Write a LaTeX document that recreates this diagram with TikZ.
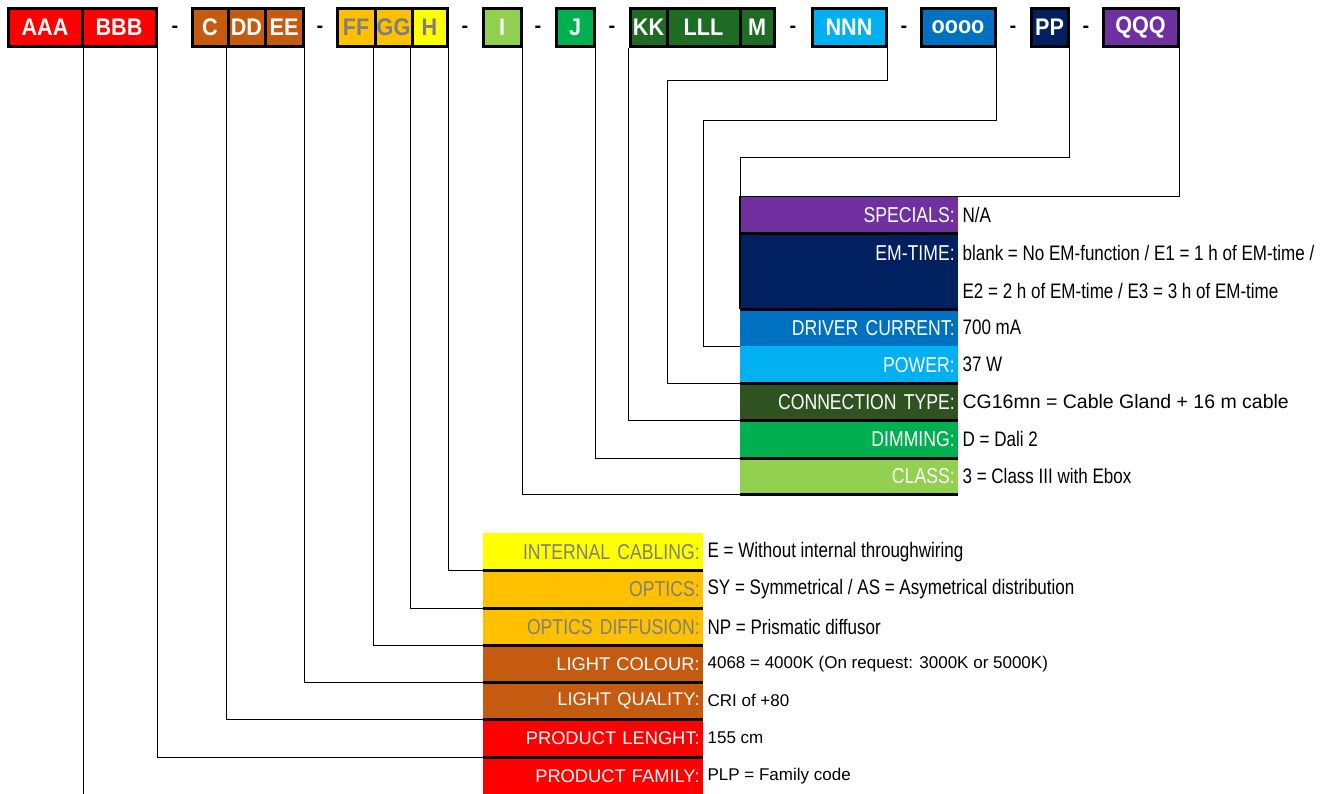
\documentclass[tikz,border=0pt]{standalone}
\usepackage{fontspec}
\setmainfont{Liberation Sans}
\newfontfamily\narrowfont{Liberation Sans}[FakeStretch=0.82]
\newfontfamily\narrowvfont{Liberation Sans}[FakeStretch=0.81]
\newfontfamily\boxfont{Liberation Sans}[FakeStretch=0.9]
\usetikzlibrary{positioning,calc}
\definecolor{cRed}{HTML}{FF0000}
\definecolor{cBrown}{HTML}{C55A11}
\definecolor{cAmber}{HTML}{FFC000}
\definecolor{cYellow}{HTML}{FFFF00}
\definecolor{cLGreen}{HTML}{92D050}
\definecolor{cGreen}{HTML}{00B050}
\definecolor{cDGreen}{HTML}{1E6B24}
\definecolor{cOlive}{HTML}{2F5320}
\definecolor{cSky}{HTML}{00B0F0}
\definecolor{cBlue}{HTML}{0070C0}
\definecolor{cNavy}{HTML}{002060}
\definecolor{cPurple}{HTML}{7030A0}
\definecolor{cGrey}{HTML}{7F7F7F}
\tikzset{
  tbox/.style={draw=black, line width=3pt, minimum height=38pt, inner sep=0pt, text=white,
    font=\boxfont\fontsize{24}{24}\selectfont\bfseries},
  dashsep/.style={inner sep=0pt, font=\fontsize{20}{20}\selectfont\bfseries},
  ucell/.style={anchor=north west, minimum width=218pt, text width=211pt, align=right,
    inner xsep=3.5pt, inner ysep=0pt, text=white, font=\narrowfont\fontsize{21.5}{21.5}\selectfont},
  lcell/.style={anchor=north west, minimum width=220pt, text width=213pt, align=right,
    inner xsep=3.5pt, inner ysep=0pt, text=white, font=\narrowfont\fontsize{21.5}{21.5}\selectfont},
  wcell/.style={lcell, font=\fontsize{18.3}{18.3}\selectfont},
  val/.style={inner sep=0pt, font=\narrowvfont\fontsize{21}{21}\selectfont},
  wval/.style={inner sep=0pt, font=\fontsize{17}{17}\selectfont},
  aval/.style={inner sep=0pt, font=\fontsize{19.5}{19.5}\selectfont},
  sep/.style={line width=3pt, black},
  conn/.style={line width=0.9pt, black},
}
\begin{document}
\begin{tikzpicture}[x=1pt,y=-1pt]
\fill[white] (0,0) rectangle (1325,793);
\useasboundingbox (0,0) rectangle (1325,793);

% ---------- upper legend cells ----------
\node[ucell, fill=cPurple, minimum height=37pt] (specials) at (740,196) {SPECIALS:};
\node[ucell, fill=cNavy, minimum height=76pt] (emtime) at (740,233) {};
\node[ucell, fill=cBlue, minimum height=37pt] (driver) at (740,309) {DRIVER CURRENT:};
\node[ucell, fill=cSky, minimum height=37pt] (power) at (740,346) {POWER:};
\node[ucell, fill=cOlive, minimum height=37pt] (conntype) at (740,383) {CONNECTION TYPE:};
\node[ucell, fill=cGreen, minimum height=38pt] (dimming) at (740,420) {DIMMING:};
\node[ucell, fill=cLGreen, minimum height=36pt] (class) at (740,458) {CLASS:};
\node[anchor=east, inner xsep=3.5pt, inner ysep=0pt, text=white, font=\narrowfont\fontsize{21.5}{21.5}\selectfont]
  (emlab) at ($(emtime.north east)+(0,20)$) {EM-TIME:};

\foreach \r in {specials,emtime,power,conntype,dimming,class}
  \draw[sep] (\r.south west) -- (\r.south east);
\draw[line width=2.5pt] (specials.north west) -- (emtime.south west);

\node[val, right=4pt of specials] (vspec) {N/A};
\node[val, anchor=west] (vem1) at ($(emtime.north east)+(4,20)$) {blank = No EM-function / E1 = 1 h of EM-time /};
\node[val, anchor=west] (vem2) at ($(emtime.north east)+(4,58)$) {E2 = 2 h of EM-time / E3 = 3 h of EM-time};
\node[val, right=4pt of driver] (vdrv) {700 mA};
\node[val, right=4pt of power] (vpow) {37 W};
\node[aval, right=4pt of conntype] (vcon) {CG16mn = Cable Gland + 16 m cable};
\node[val, right=4pt of dimming] (vdim) {D = Dali 2};
\node[val, right=4pt of class] (vcls) {3 = Class III with Ebox};

% ---------- lower legend cells ----------
\node[lcell, fill=cYellow, text=cGrey, minimum height=37pt] (intcab) at (483,533) {INTERNAL CABLING:};
\node[lcell, fill=cAmber, text=cGrey, minimum height=38pt] (optics) at (483,570) {OPTICS:};
\node[lcell, fill=cAmber, text=cGrey, minimum height=37pt] (optdiff) at (483,608) {OPTICS DIFFUSION:};
\node[wcell, fill=cBrown, minimum height=37pt] (lcolour) at (483,645) {LIGHT COLOUR:};
\node[wcell, fill=cBrown, minimum height=37pt] (lquality) at (483,682) {LIGHT QUALITY:};
\node[wcell, fill=cRed, minimum height=38pt] (plength) at (483,719) {PRODUCT LENGHT:};
\node[wcell, fill=cRed, minimum height=38pt] (pfamily) at (483,757) {PRODUCT FAMILY:};

\foreach \r in {intcab,optics,optdiff,lcolour,lquality,plength}
  \draw[sep] (\r.south west) -- (\r.south east);

\node[val, right=4pt of intcab] (vint) {E = Without internal throughwiring};
\node[val, right=4pt of optics] (vopt) {SY = Symmetrical / AS = Asymetrical distribution};
\node[val, right=4pt of optdiff] (vdif) {NP = Prismatic diffusor};
\node[wval, right=4pt of lcolour] (vcol) {4068 = 4000K (On request: 3000K or 5000K)};
\node[wval, right=4pt of lquality] (vqua) {CRI of +80};
\node[wval, right=4pt of plength] (vlen) {155 cm};
\node[wval, right=4pt of pfamily] (vfam) {PLP = Family code};

% ---------- top code boxes ----------
\node[tbox, fill=cRed, minimum width=74pt] (aaa) at (45,27) {AAA};
\node[tbox, fill=cRed, minimum width=74pt] (bbb) at (119,27) {BBB};
\node[tbox, fill=cBrown, minimum width=36pt] (c) at (210,27) {C};
\node[tbox, fill=cBrown, minimum width=37pt] (dd) at (246.5,27) {DD};
\node[tbox, fill=cBrown, minimum width=38pt] (ee) at (284,27) {EE};
\node[tbox, fill=cAmber, text=cGrey, minimum width=38pt] (ff) at (356,27) {FF};
\node[tbox, fill=cAmber, text=cGrey, minimum width=37pt] (gg) at (393.5,27) {GG};
\node[tbox, fill=cYellow, text=cGrey, minimum width=35pt] (h) at (429.5,27) {H};
\node[tbox, fill=cLGreen, minimum width=38pt] (i) at (502,27) {I};
\node[tbox, fill=cGreen, minimum width=38pt] (j) at (575,27) {J};
\node[tbox, fill=cDGreen, minimum width=37pt] (kk) at (648.5,27) {KK};
\node[tbox, fill=cDGreen, minimum width=73pt] (lll) at (703.5,27) {LLL};
\node[tbox, fill=cDGreen, minimum width=34pt] (m) at (757,27) {M};
\node[tbox, fill=cSky, minimum width=74pt] (nnn) at (849,27) {NNN};
\node[tbox, fill=cBlue, minimum width=74pt] (oooo) at (958,27) {oooo};
\node[tbox, fill=cNavy, minimum width=37pt] (pp) at (1049.5,27) {PP};
\node[tbox, fill=cPurple, minimum width=75pt] (qqq) at (1140.5,27) {QQQ};

\node[dashsep] (d1) at (175,29) {-};
\node[dashsep] (d2) at (320,29) {-};
\node[dashsep] (d3) at (465,29) {-};
\node[dashsep] (d4) at (538,29) {-};
\node[dashsep] (d5) at (612,29) {-};
\node[dashsep] (d6) at (793,29) {-};
\node[dashsep] (d7) at (904,29) {-};
\node[dashsep] (d8) at (1013,29) {-};
\node[dashsep] (d9) at (1086,29) {-};

% ---------- connectors ----------
\coordinate (nb) at (667,80);
\coordinate (ob) at (703,120);
\coordinate (pb) at (740,157);
\draw[conn] (qqq.south east) |- (specials.north west);
\draw[conn] (pp.south east) |- (pb) -- (emtime.south west);
\draw[conn] (oooo.south east) |- (ob) |- (driver.south west);
\draw[conn] (nnn.south east) |- (nb) |- (power.south west);
\draw[conn] (kk.south west) |- (conntype.south west);
\draw[conn] (j.south east) |- (dimming.south west);
\draw[conn] (i.south east) |- (class.south west);

\draw[conn] (h.south east) |- (intcab.south west);
\draw[conn] (h.south west) |- (optics.south west);
\draw[conn] (gg.south west) |- (optdiff.south west);
\draw[conn] (ee.south east) |- (lcolour.south west);
\draw[conn] (dd.south west) |- (lquality.south west);
\draw[conn] (bbb.south east) |- (plength.south west);
\draw[conn] (aaa.south east) |- (pfamily.south west);
\end{tikzpicture}
\end{document}
